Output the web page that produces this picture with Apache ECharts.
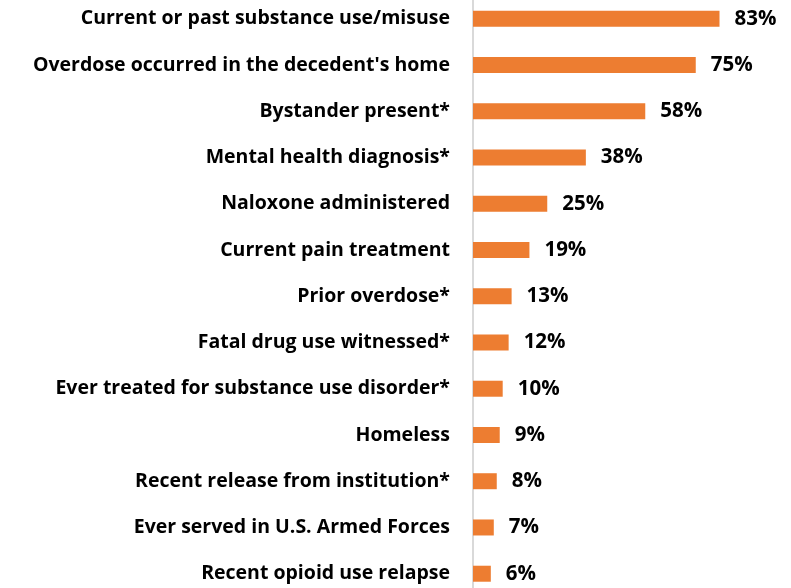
<!DOCTYPE html>
<html><head><meta charset="utf-8">
<script src="https://cdn.jsdelivr.net/npm/echarts@6/dist/echarts.min.js"></script>
<style>html,body{margin:0;padding:0;background:#fff}#c{width:791px;height:588px}</style>
</head><body><div id="c"></div>
<script>
const categories = [
  "Current or past substance use/misuse",
  "Overdose occurred in the decedent's home",
  "Bystander present*",
  "Mental health diagnosis*",
  "Naloxone administered",
  "Current pain treatment",
  "Prior overdose*",
  "Fatal drug use witnessed*",
  "Ever treated for substance use disorder*",
  "Homeless",
  "Recent release from institution*",
  "Ever served in U.S. Armed Forces",
  "Recent opioid use relapse"
];
const values = [83, 75, 58, 38, 25, 19, 13, 12, 10, 9, 8, 7, 6];

const chart = echarts.init(document.getElementById('c'));
chart.setOption({
  animation: false,
  grid: { left: 473, width: 297, top: -4.4, height: 601.25, containLabel: false, outerBoundsMode: 'none' },
  xAxis: { type: 'value', min: 0, max: 100, show: false },
  yAxis: {
    type: 'category', data: categories, inverse: true,
    axisLine: { show: true, lineStyle: { color: '#d9d9d9', width: 2 } },
    axisTick: { show: false },
    axisLabel: { margin: 23, fontFamily: 'Open Sans', fontWeight: 'bold', fontSize: 19.5, color: '#000' }
  },
  series: [{
    type: 'bar', data: values, barWidth: 16,
    itemStyle: { color: '#ED7D31' },
    label: { show: true, position: 'right', distance: 15, formatter: '{c}%',
      fontFamily: 'Open Sans', fontWeight: 'bold', fontSize: 20.5, color: '#000' }
  }]
});
</script></body></html>
